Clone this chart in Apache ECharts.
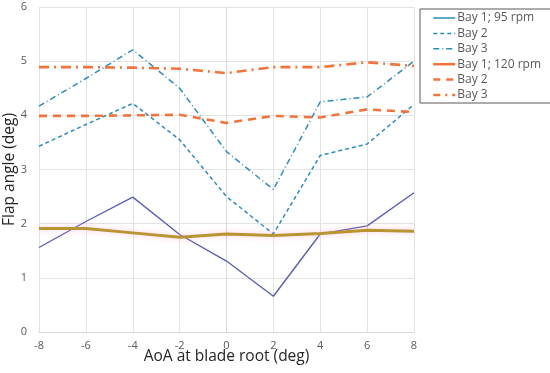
<!DOCTYPE html>
<html><head><meta charset="utf-8">
<script src="https://cdn.jsdelivr.net/npm/echarts@6/dist/echarts.min.js"></script>
<style>html,body{margin:0;padding:0;background:#fff}#c{width:550px;height:373px}</style>
</head><body><div id="c"></div>
<script>
var aoa = [-8, -6, -4, -2, 0, 2, 4, 6, 8];
var bay1_95  = [1.56, 2.04, 2.49, 1.80, 1.31, 0.66, 1.81, 1.96, 2.57];
var bay2_95  = [3.43, 3.83, 4.22, 3.55, 2.50, 1.81, 3.26, 3.47, 4.20];
var bay3_95  = [4.17, 4.68, 5.21, 4.50, 3.33, 2.63, 4.25, 4.34, 5.00];
var bay1_120 = [1.91, 1.91, 1.83, 1.75, 1.81, 1.78, 1.82, 1.88, 1.86];
var bay2_120 = [3.99, 3.99, 4.00, 4.01, 3.86, 3.99, 3.96, 4.11, 4.06];
var bay3_120 = [4.89, 4.89, 4.88, 4.86, 4.78, 4.89, 4.89, 4.98, 4.91];
var names = ['Bay 1; 95 rpm', 'Bay 2', 'Bay 3', 'Bay 1; 120 rpm', 'Bay 2 ', 'Bay 3 '];

var teal = '#2b8cbe', orange = '#f4733a';
function pairs(v){ return aoa.map(function(x,i){ return [x, v[i]]; }); }
function ser(name, v, color, width, type, extra){
  var s = {name:name, type:'line', symbol:'none', data:pairs(v), z: 3,
    lineStyle:{color:color, width:width, type:type}, itemStyle:{color:color}};
  if (extra) for (var k in extra) s.lineStyle[k] = extra[k];
  return s;
}
function leg(name, color, width, type){
  return {name:name, lineStyle:{color:color, width:width, type:type}, itemStyle:{opacity:0}};
}
var chart = echarts.init(document.getElementById('c'));
chart.setOption({
  animation:false,
  textStyle:{fontFamily:'Open Sans'},
  grid:{left:39, right:136, top:7, bottom:41, outerBoundsMode:'none', containLabel:false},
  xAxis:{type:'value', min:-8, max:8, interval:2,
    name:'AoA at blade root (deg)', nameLocation:'middle', nameGap:17, nameMoveOverlap:false,
    nameTextStyle:{fontSize:15.5, color:'#262626', verticalAlign:'top'},
    axisLine:{show:true, onZero:false, lineStyle:{color:'#d9d9d9'}}, axisTick:{show:false},
    axisLabel:{color:'#595959', fontSize:11, margin:8},
    splitLine:{show:true, lineStyle:{color:'#e3e3e3'}}},
  yAxis:{type:'value', min:0, max:6, interval:1,
    name:'Flap angle (deg)', nameLocation:'middle', nameGap:21, nameMoveOverlap:false,
    nameTextStyle:{fontSize:15.5, color:'#262626'},
    axisLine:{show:true, lineStyle:{color:'#d9d9d9'}}, axisTick:{show:false},
    axisLabel:{color:'#595959', fontSize:11, margin:12},
    splitLine:{show:true, lineStyle:{color:'#e3e3e3'}}},
  legend:{orient:'vertical', left:420, top:9, width:110,
    padding:[3, 27, 2, 12], itemGap:3.4, itemWidth:22, itemHeight:12,
    borderColor:'#595959', borderWidth:1,
    textStyle:{color:'#595959', fontSize:12, padding:[0,0,0,-3]},
    data:[
      leg(names[0], teal, 1.5, 'solid'),
      leg(names[1], teal, 1.5, [4,3]),
      leg(names[2], teal, 1.5, [6,3,1,3]),
      leg(names[3], orange, 2.5, 'solid'),
      leg(names[4], orange, 2.5, [7,6]),
      leg(names[5], orange, 2.5, [7,5,2,5])
    ]},
  series:[
    ser(names[0], bay1_95, '#5b5fb5', 1.4, 'solid'),
    ser(names[1], bay2_95, teal, 1.5, [4,3]),
    ser(names[2], bay3_95, teal, 1.5, [6,3,1,3]),
    ser(names[3], bay1_120, '#b89530', 3, 'solid', {shadowColor:'rgba(255,160,210,0.6)', shadowBlur:6}),
    ser(names[4], bay2_120, orange, 2.6, [8,6]),
    ser(names[5], bay3_120, orange, 2.6, [10,5,2,5])
  ]
});
</script></body></html>
